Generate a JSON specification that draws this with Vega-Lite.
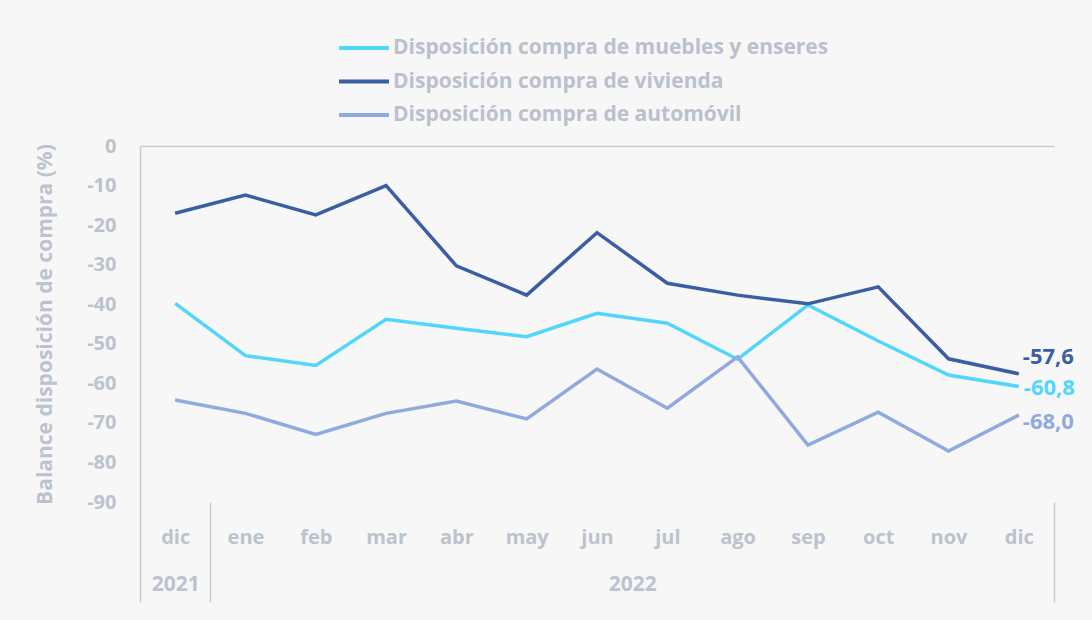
{
  "$schema": "https://vega.github.io/schema/vega-lite/v6.json",
  "width": 914,
  "height": 356,
  "autosize": {"type": "none"},
  "padding": {"left": 140, "top": 146, "right": 38, "bottom": 118},
  "background": "#f7f7f7",
  "config": {
    "view": {"stroke": null},
    "font": "Open Sans",
    "locale": {"number": {"decimal": ",", "thousands": ".", "grouping": [3], "currency": ["", " €"], "minus": "-"}},
    "legend": {
      "orient": "none",
      "legendX": 207,
      "legendY": -115,
      "direction": "vertical",
      "symbolType": "M-1.667,0L1.667,0",
      "symbolSize": 900,
      "symbolStrokeWidth": 4,
      "labelFont": "Open Sans",
      "labelFontSize": 21,
      "labelFontWeight": "bold",
      "labelColor": "#bac1cc",
      "labelLimit": 700,
      "labelOffset": 12,
      "rowPadding": 6.5,
      "title": null
    }
  },
  "layer": [
    {
      "data": {
        "values": [
          {"periodo": "2021-12", "serie": "Disposición compra de muebles y enseres", "valor": -39.8},
          {"periodo": "2022-01", "serie": "Disposición compra de muebles y enseres", "valor": -53.0},
          {"periodo": "2022-02", "serie": "Disposición compra de muebles y enseres", "valor": -55.5},
          {"periodo": "2022-03", "serie": "Disposición compra de muebles y enseres", "valor": -43.8},
          {"periodo": "2022-04", "serie": "Disposición compra de muebles y enseres", "valor": -46.1},
          {"periodo": "2022-05", "serie": "Disposición compra de muebles y enseres", "valor": -48.2},
          {"periodo": "2022-06", "serie": "Disposición compra de muebles y enseres", "valor": -42.3},
          {"periodo": "2022-07", "serie": "Disposición compra de muebles y enseres", "valor": -44.8},
          {"periodo": "2022-08", "serie": "Disposición compra de muebles y enseres", "valor": -53.9},
          {"periodo": "2022-09", "serie": "Disposición compra de muebles y enseres", "valor": -40.2},
          {"periodo": "2022-10", "serie": "Disposición compra de muebles y enseres", "valor": -49.3},
          {"periodo": "2022-11", "serie": "Disposición compra de muebles y enseres", "valor": -57.9},
          {"periodo": "2022-12", "serie": "Disposición compra de muebles y enseres", "valor": -60.8},
          {"periodo": "2021-12", "serie": "Disposición compra de vivienda", "valor": -17.0},
          {"periodo": "2022-01", "serie": "Disposición compra de vivienda", "valor": -12.4},
          {"periodo": "2022-02", "serie": "Disposición compra de vivienda", "valor": -17.4},
          {"periodo": "2022-03", "serie": "Disposición compra de vivienda", "valor": -10.0},
          {"periodo": "2022-04", "serie": "Disposición compra de vivienda", "valor": -30.3},
          {"periodo": "2022-05", "serie": "Disposición compra de vivienda", "valor": -37.7},
          {"periodo": "2022-06", "serie": "Disposición compra de vivienda", "valor": -21.9},
          {"periodo": "2022-07", "serie": "Disposición compra de vivienda", "valor": -34.7},
          {"periodo": "2022-08", "serie": "Disposición compra de vivienda", "valor": -37.7},
          {"periodo": "2022-09", "serie": "Disposición compra de vivienda", "valor": -39.9},
          {"periodo": "2022-10", "serie": "Disposición compra de vivienda", "valor": -35.6},
          {"periodo": "2022-11", "serie": "Disposición compra de vivienda", "valor": -53.8},
          {"periodo": "2022-12", "serie": "Disposición compra de vivienda", "valor": -57.6},
          {"periodo": "2021-12", "serie": "Disposición compra de automóvil", "valor": -64.2},
          {"periodo": "2022-01", "serie": "Disposición compra de automóvil", "valor": -67.6},
          {"periodo": "2022-02", "serie": "Disposición compra de automóvil", "valor": -72.9},
          {"periodo": "2022-03", "serie": "Disposición compra de automóvil", "valor": -67.6},
          {"periodo": "2022-04", "serie": "Disposición compra de automóvil", "valor": -64.5},
          {"periodo": "2022-05", "serie": "Disposición compra de automóvil", "valor": -69.0},
          {"periodo": "2022-06", "serie": "Disposición compra de automóvil", "valor": -56.4},
          {"periodo": "2022-07", "serie": "Disposición compra de automóvil", "valor": -66.3},
          {"periodo": "2022-08", "serie": "Disposición compra de automóvil", "valor": -53.3},
          {"periodo": "2022-09", "serie": "Disposición compra de automóvil", "valor": -75.6},
          {"periodo": "2022-10", "serie": "Disposición compra de automóvil", "valor": -67.3},
          {"periodo": "2022-11", "serie": "Disposición compra de automóvil", "valor": -77.1},
          {"periodo": "2022-12", "serie": "Disposición compra de automóvil", "valor": -68.0}
        ]
      },
      "encoding": {
        "x": {
          "field": "periodo",
          "type": "ordinal",
          "scale": {"type": "point", "padding": 0.5},
          "axis": {
            "orient": "bottom",
            "title": null,
            "labelExpr": "['ene','feb','mar','abr','may','jun','jul','ago','sep','oct','nov','dic'][toNumber(substring(datum.value,5,7))-1]",
            "domain": false,
            "ticks": false,
            "labelAngle": 0,
            "labelPadding": 25,
            "labelFontSize": 20,
            "labelFontWeight": "bold",
            "labelColor": "#bcc3cd"
          }
        },
        "y": {
          "field": "valor",
          "type": "quantitative",
          "scale": {"domain": [-90, 0], "nice": false, "zero": false},
          "axis": {
            "title": "Balance disposición de compra (%)",
            "values": [-90, -80, -70, -60, -50, -40, -30, -20, -10, 0],
            "format": "d",
            "grid": true,
            "gridColor": "#c5ccd6",
            "gridWidth": 1.5,
            "gridOpacity": {"condition": {"test": "datum.value === 0", "value": 1}, "value": 0},
            "domainColor": "#c5ccd6",
            "domainWidth": 1.5,
            "ticks": false,
            "labelPadding": 24,
            "labelFontSize": 20,
            "labelFontWeight": "bold",
            "labelColor": "#bcc3cd",
            "titleFontSize": 21,
            "titleFontWeight": "bold",
            "titleColor": "#bcc3cd",
            "titlePadding": 31
          }
        },
        "color": {
          "field": "serie",
          "type": "nominal",
          "scale": {
            "domain": ["Disposición compra de muebles y enseres", "Disposición compra de vivienda", "Disposición compra de automóvil"],
            "range": ["#52d6fc", "#3a5ea4", "#8eaadf"]
          }
        }
      },
      "layer": [
        {"mark": {"type": "line", "strokeWidth": 3.5}},
        {
          "transform": [{"filter": "datum.periodo == '2022-12' && datum.serie == 'Disposición compra de vivienda'"}],
          "mark": {"type": "text", "align": "left", "baseline": "middle", "dx": 4, "dy": -17, "fontSize": 22, "fontWeight": "bold"},
          "encoding": {"text": {"field": "valor", "type": "quantitative", "format": ".1f"}}
        },
        {
          "transform": [{"filter": "datum.periodo == '2022-12' && datum.serie == 'Disposición compra de muebles y enseres'"}],
          "mark": {"type": "text", "align": "left", "baseline": "middle", "dx": 5, "dy": 2, "fontSize": 22, "fontWeight": "bold"},
          "encoding": {"text": {"field": "valor", "type": "quantitative", "format": ".1f"}}
        },
        {
          "transform": [{"filter": "datum.periodo == '2022-12' && datum.serie == 'Disposición compra de automóvil'"}],
          "mark": {"type": "text", "align": "left", "baseline": "middle", "dx": 4, "dy": 7, "fontSize": 22, "fontWeight": "bold"},
          "encoding": {"text": {"field": "valor", "type": "quantitative", "format": ".1f"}}
        }
      ]
    },
    {
      "data": {"values": [{"anio": "2021", "mes_final": 1}, {"anio": "2022", "mes_final": 13}]},
      "mark": {"type": "rule", "opacity": 0},
      "encoding": {
        "x": {
          "field": "mes_final",
          "type": "quantitative",
          "scale": {"domain": [0, 13], "nice": false, "zero": false},
          "axis": {
            "orient": "bottom",
            "title": null,
            "values": [0, 0.5, 1, 7, 13],
            "labelExpr": "datum.value == 0.5 ? '2021' : (datum.value == 7 ? '2022' : '')",
            "domain": false,
            "grid": false,
            "tickSize": 100,
            "tickColor": "#c5ccd6",
            "tickWidth": 1.5,
            "tickOpacity": {"condition": {"test": "datum.value == 0.5 || datum.value == 7", "value": 0}, "value": 1},
            "labelPadding": -29,
            "labelFontSize": 21,
            "labelFontWeight": "bold",
            "labelColor": "#bcc3cd",
            "labelFlush": false,
            "labelOverlap": false,
            "labelBound": false
          }
        }
      }
    }
  ],
  "resolve": {"scale": {"x": "independent"}, "axis": {"x": "independent"}}
}
